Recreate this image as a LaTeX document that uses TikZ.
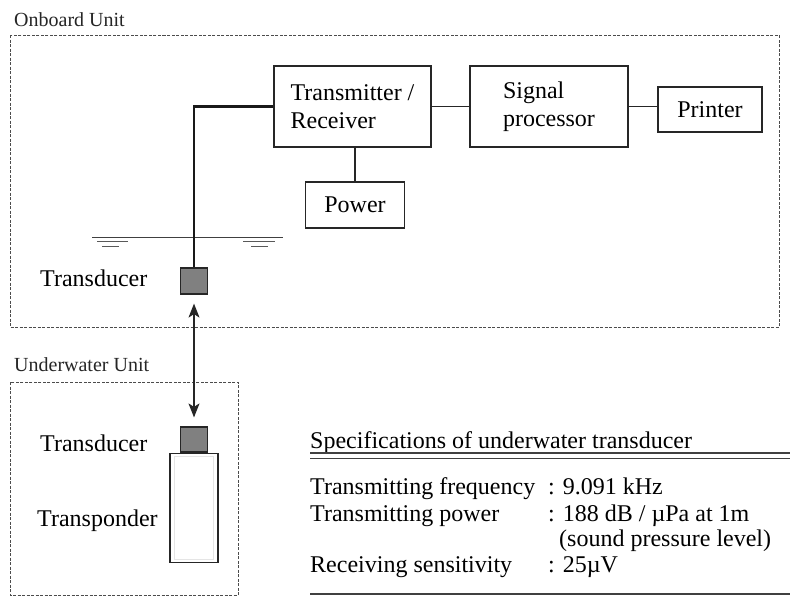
\documentclass[tikz,border=0pt]{standalone}
\usepackage{fontspec}
\setmainfont{Liberation Serif}
\usetikzlibrary{arrows.meta}
\begin{document}
\begin{tikzpicture}[x=1pt,y=-1pt,
  unitbox/.style={draw=black!70, line width=0.8pt, dash pattern=on 3pt off 1.5pt},
  blk/.style={draw=black!85, line width=1.4pt, font=\fontsize{24}{28}\selectfont, align=left, inner sep=0pt},
  conn/.style={draw=black!85, line width=1.3pt},
  cable/.style={draw=black!90, line width=2.4pt},
  tdx/.style={draw=black!85, line width=1.2pt, fill=black!50, minimum width=27pt, minimum height=26pt, inner sep=0pt},
  lbl/.style={font=\fontsize{24}{28}\selectfont, inner sep=0pt},
  unitlbl/.style={font=\fontsize{20}{24}\selectfont, inner sep=0pt, text=black!85},
  spec/.style={font=\fontsize{24}{28}\selectfont, inner sep=0pt, anchor=base west},
  rule/.style={draw=black!75, line width=1.2pt},
  twotips/.style={arrows={Stealth[length=14pt,width=11pt,inset=3.5pt]-Stealth[length=14pt,width=11pt,inset=3.5pt]}}
]
\useasboundingbox (0,0) rectangle (790,598);
\fill[white] (0,0) rectangle (790,598);

% Onboard unit
\node[unitlbl, anchor=base west] (onlbl) at (14,26) {Onboard Unit};
\draw[unitbox] (10,35) rectangle (779,327);

\node[blk, minimum width=157pt, minimum height=81pt] (tr) at (352.5,106.5) {Transmitter /\\Receiver};
\node[blk, minimum width=158pt, minimum height=81pt] (sp) at (549,106.5) {Signal\\processor};
\node[blk, minimum width=104pt, minimum height=45pt] (pr) at (710,109.5) {Printer};
\node[blk, minimum width=99pt, minimum height=46pt] (pw) at (355,205) {Power};

\draw[conn] (tr.east) -- (sp.west);
\draw[conn] (sp.east) -- (sp.east -| pr.west);
\draw[conn] (pw.north) -- (pw.north |- tr.south);

% water surface
\coordinate (wl) at (92,237.5);
\coordinate (wr) at (283,237.5);
\draw[draw=black!75, line width=1pt] (wl) -- (wr);
\draw[draw=black!65, line width=1pt] (97,241.5) -- (128,241.5) (102,246.5) -- (119,246.5);
\draw[draw=black!65, line width=1pt] (243,241.5) -- (275,241.5) (251,246.5) -- (268,246.5);

\node[tdx] (tdA) at (194,281) {};
\draw[cable] (tr.west) -| (tdA.north);
\node[lbl, anchor=base west] (tdAl) at (40,286) {Transducer};

% Underwater unit
\node[unitlbl, anchor=base west] (uwlbl) at (14,371) {Underwater Unit};
\draw[unitbox] (10,382) rectangle (238,595);
\node[tdx, minimum height=25pt] (tdB) at (194,439.5) {};
\node[draw=black!85, line width=1.4pt, minimum width=48pt, minimum height=109pt, inner sep=0pt, anchor=north] (tp) at (tdB.south) {};
\draw[black!10, line width=0.6pt] ([xshift=5pt,yshift=-4pt]tp.north west) rectangle ([xshift=-5pt,yshift=4pt]tp.south east);
\node[lbl, anchor=base west] (tdBl) at (40,451) {Transducer};
\node[lbl, anchor=base west] (tpl) at (37,526) {Transponder};

% acoustic link
\draw[line width=1.1pt, black!85, twotips, shorten <=9pt, shorten >=9pt] (tdA.south) -- (tdB.north);

% Specifications
\node[spec] (sh) at (310,448) {Specifications of underwater transducer};
\coordinate (r1a) at (310,453); \coordinate (r1b) at (790,453);
\coordinate (r2a) at (310,458); \coordinate (r2b) at (790,458);
\coordinate (r3a) at (310,594); \coordinate (r3b) at (790,594);
\draw[rule] (r1a) -- (r1b);
\draw[rule, line width=0.9pt] (r2a) -- (r2b);
\draw[rule] (r3a) -- (r3b);

\node[spec] (s1) at (310,494) {Transmitting frequency};
\node[spec] (v1) at (548,494) {: 9.091 kHz};
\node[spec] (s2) at (310,521) {Transmitting power};
\node[spec] (v2) at (548,521) {: 188 dB / µPa at 1m};
\node[spec] (v2b) at (559,546) {(sound pressure level)};
\node[spec] (s3) at (310,572) {Receiving sensitivity};
\node[spec] (v3) at (548,572) {: 25µV};
\end{tikzpicture}
\end{document}
